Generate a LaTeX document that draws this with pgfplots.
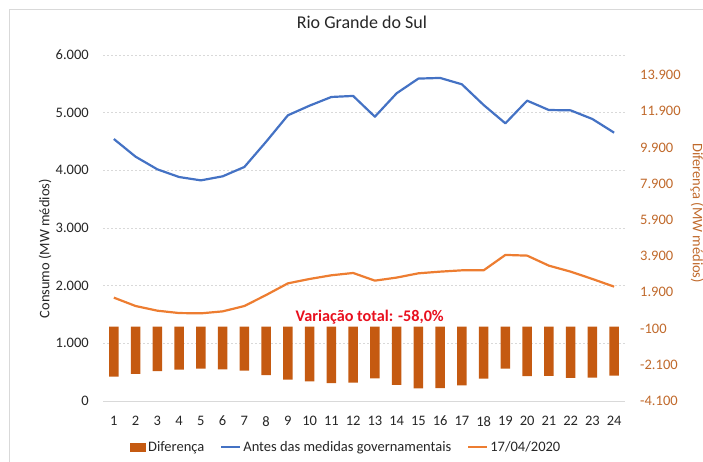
\documentclass[border=0pt]{standalone}
\usepackage{pgfplots}
\pgfplotsset{compat=1.18}
\usepackage{fontspec}
\setmainfont{Carlito}
\definecolor{cblue}{HTML}{4472C4}
\definecolor{corange}{HTML}{ED7D31}
\definecolor{cbar}{HTML}{C55A11}
\definecolor{caxis}{HTML}{C0692B}
\definecolor{cred}{HTML}{E8101E}
\definecolor{cgrid}{HTML}{D9D9D9}
\definecolor{ctext}{HTML}{262626}
\pgfplotsset{
  lineleg/.style={legend image code/.code={\draw[##1] (0pt,0pt) -- (19pt,0pt);}},
  barleg/.style={legend image code/.code={\fill[cbar] (0pt,-4.5pt) rectangle (16pt,4.5pt);}},
}
\pgfplotstableread{
h blue orange dif
1 4543 1792 -2754
2 4236 1647 -2607
3 4017 1566 -2455
4 3884 1525 -2365
5 3826 1520 -2319
6 3896 1554 -2356
7 4058 1647 -2418
8 4496 1838 -2669
9 4954 2040 -2927
10 5122 2116 -3020
11 5272 2180 -3107
12 5290 2220 -3087
13 4930 2087 -2855
14 5336 2140 -3206
15 5591 2214 -3400
16 5602 2243 -3390
17 5492 2266 -3240
18 5133 2266 -2868
19 4815 2533 -2307
20 5208 2521 -2722
21 5046 2347 -2719
22 5040 2243 -2821
23 4890 2116 -2810
24 4653 1983 -2695
}\data
\begin{document}
\begin{tikzpicture}[x=1pt,y=1pt]
\path[use as bounding box] (0,0) rectangle (703,462);
\draw[cgrid, line width=0.8pt] (9.5,0) -- (9.5,452.5) -- (703,452.5);
\begin{axis}[
  at={(103pt,61pt)}, anchor=south west, scale only axis,
  width=522pt, height=346pt,
  xmin=0.5, xmax=24.5, ymin=0, ymax=6000,
  axis x line*=bottom, axis y line*=left,
  x axis line style={cgrid, line width=0.8pt},
  y axis line style={draw=none},
  major tick length=0pt,
  scaled y ticks=false,
  xtick={1,...,24},
  xticklabels={1,2,3,4,5,6,7,8,9,10,11,12,13,14,15,16,17,18,19,20,21,22,23,24},
  ytick={0,1000,...,6000},
  yticklabels={0,1.000,2.000,3.000,4.000,5.000,6.000},
  /pgf/number format/assume math mode=true,
  ymajorgrids, grid style={cgrid, dash pattern=on 2pt off 2pt, line width=0.7pt},
  ticklabel style={font=\fontsize{14.5}{17}\selectfont, text=ctext, inner sep=0pt},
  yticklabel style={anchor=east, xshift=-14pt},
  xticklabel style={anchor=north, yshift=-15pt},
  ylabel={Consumo (MW médios)},
  ylabel style={at={(axis description cs:-0.111,0.44)}, anchor=center, font=\fontsize{14.5}{17}\selectfont, text=ctext},
  title={Rio Grande do Sul},
  title style={at={(axis description cs:0.496,1.078)}, anchor=center, font=\fontsize{18}{21}\selectfont, text=ctext},
  clip=false,
]
\addplot[cblue, line width=2.2pt, line join=round] table[x=h, y=blue] {\data};
\addplot[corange, line width=2.2pt, line join=round] table[x=h, y=orange] {\data};
\end{axis}
\begin{axis}[
  at={(103pt,61pt)}, anchor=south west, scale only axis,
  width=522pt, height=346pt,
  xmin=0.5, xmax=24.5, ymin=-4100, ymax=15000,
  axis x line=none, axis y line*=right,
  y axis line style={draw=none},
  major tick length=0pt,
  scaled y ticks=false,
  ytick={-4100,-2100,...,13900},
  yticklabels={-4.100,-2.100,-100,1.900,3.900,5.900,7.900,9.900,11.900,13.900},
  yticklabel style={font=\fontsize{14.5}{17}\selectfont, text=caxis, inner sep=0pt, anchor=west, xshift=15pt},
  ylabel={Diferença (MW médios)},
  ylabel style={at={(axis description cs:1.138,0.543)}, anchor=center, rotate=180, font=\fontsize{14.5}{17}\selectfont, text=caxis},
  legend columns=3,
  legend style={draw=none, fill=none, at={(axis description cs:0.466,-0.133)}, anchor=center,
    font=\fontsize{14.5}{17}\selectfont, text=ctext,
    /tikz/every even column/.append style={column sep=14pt}},
  legend cell align=left,
  clip=false,
]
\addplot[ybar, bar width=9.5pt, fill=cbar, draw=none, barleg]
  table[x=h, y=dif] {\data};
\addlegendentry{Diferença}
\addlegendimage{cblue, line width=2pt, lineleg}
\addlegendentry{Antes das medidas governamentais}
\addlegendimage{corange, line width=2pt, lineleg}
\addlegendentry{17/04/2020}
\node[text=cred, font=\bfseries\fontsize{16.2}{19}\selectfont] at (rel axis cs:0.511,0.243) {Variação total: -58,0\%};
\end{axis}
\end{tikzpicture}
\end{document}
